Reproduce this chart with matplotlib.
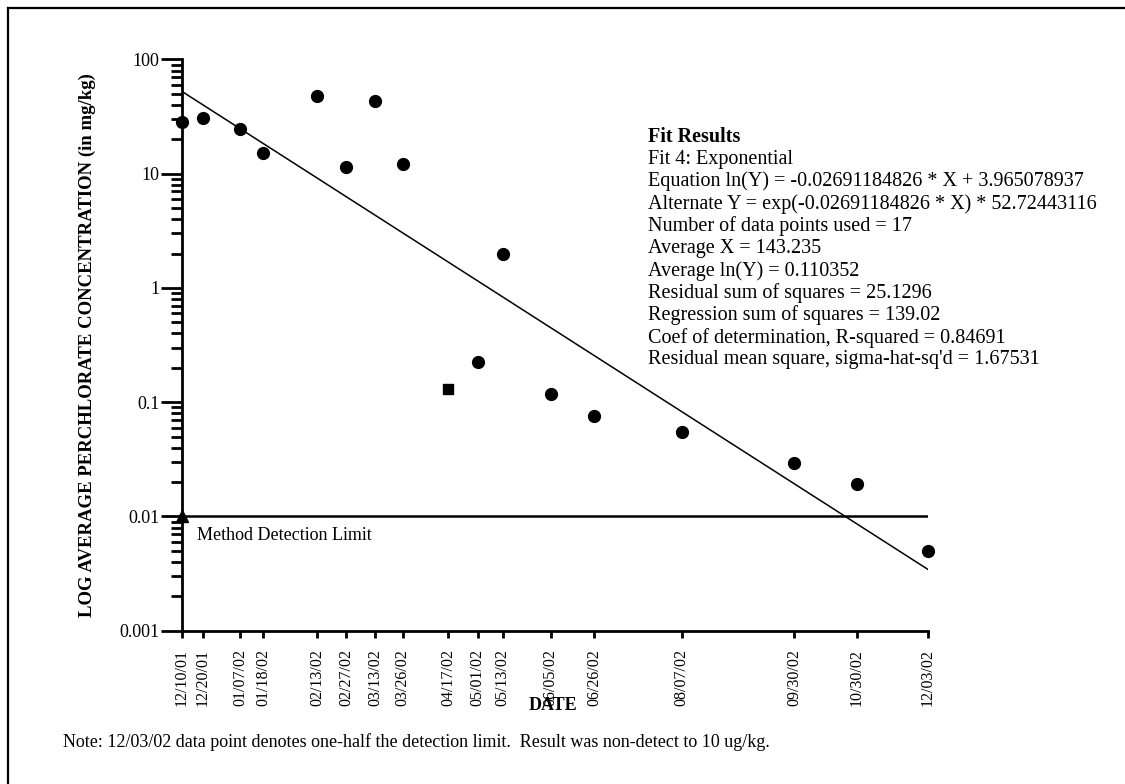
import matplotlib
matplotlib.use("Agg")
import matplotlib.pyplot as plt
import numpy as np
import pandas as pd
from matplotlib.ticker import FixedLocator, LogLocator, NullFormatter

plt.rcParams['font.family'] = ['Liberation Serif', 'DejaVu Serif']

# sample dates and average perchlorate (mg/kg)
dates = ['12/10/01', '12/20/01', '01/07/02', '01/18/02', '02/13/02', '02/27/02',
         '03/13/02', '03/26/02', '04/17/02', '05/01/02', '05/13/02', '06/05/02',
         '06/26/02', '08/07/02', '09/30/02', '10/30/02', '12/03/02']
conc = [28.2, 30.8, 24.4, 15.1, 47.7, 11.4, 43.1, 12.2, 0.131, 0.227, 2.0,
        0.117, 0.076, 0.055, 0.0296, 0.0192, 0.005]
square_date = '04/17/02'

# fit coefficients from the Fit Results box
slope = -0.02691184826
intercept = 3.965078937
detection_limit = 0.01

fit_lines = [
    "Fit 4: Exponential",
    "Equation ln(Y) = -0.02691184826 * X + 3.965078937",
    "Alternate Y = exp(-0.02691184826 * X) * 52.72443116",
    "Number of data points used = 17",
    "Average X = 143.235",
    "Average ln(Y) = 0.110352",
    "Residual sum of squares = 25.1296",
    "Regression sum of squares = 139.02",
    "Coef of determination, R-squared = 0.84691",
    "Residual mean square, sigma-hat-sq'd = 1.67531",
]

W, H = 1125, 784


def fx(px):
    return px / W


def fy(py):
    return 1 - py / H


def main():
    dt = pd.to_datetime(dates, format='%m/%d/%y')
    days = np.array((dt - dt[0]).days, dtype=float)
    conc_arr = np.array(conc)
    is_sq = np.array([d == square_date for d in dates])

    fig = plt.figure(figsize=(W / 100, H / 100), dpi=100)
    ax = fig.add_axes([fx(181.7), fy(630.7), fx(927.7) - fx(181.7), fy(59.5) - fy(630.7)])

    # frame around the page (only top and left visible)
    fig.add_artist(plt.Line2D([fx(8), 1], [fy(8), fy(8)], color='black', lw=1.6))
    fig.add_artist(plt.Line2D([fx(8), fx(8)], [fy(8), 0], color='black', lw=1.6))

    ax.set_yscale('log')
    ax.set_ylim(0.001, 100)
    ax.set_xlim(days[0], days[-1])

    # fit curve
    xs = np.linspace(days[0], days[-1], 400)
    ax.plot(xs, np.exp(slope * xs + intercept), color='black', lw=1.1, zorder=2)

    # detection limit
    ax.plot([days[0], days[-1]], [detection_limit, detection_limit], color='black', lw=1.8, zorder=2)
    ax.plot([days[0]], [detection_limit], marker='^', color='black', ms=8, clip_on=False, zorder=4)

    ax.plot(days[~is_sq], conc_arr[~is_sq], 'o', color='black', ms=8.5, clip_on=False, zorder=3)
    ax.plot(days[is_sq], conc_arr[is_sq], 's', color='black', ms=7, clip_on=False, zorder=3)

    for s in ['top', 'right']:
        ax.spines[s].set_visible(False)
    for s in ['left', 'bottom']:
        ax.spines[s].set_linewidth(2)

    ax.yaxis.set_major_locator(FixedLocator([0.001, 0.01, 0.1, 1, 10, 100]))
    ax.set_yticklabels(['0.001', '0.01', '0.1', '1', '10', '100'])
    ax.yaxis.set_minor_locator(LogLocator(base=10, subs=np.arange(2, 10)))
    ax.yaxis.set_minor_formatter(NullFormatter())
    ax.tick_params(axis='y', which='major', direction='out', length=15, width=2,
                   labelsize=13, pad=1)
    ax.tick_params(axis='y', which='minor', direction='out', length=8, width=2)

    ax.set_xticks(days)
    ax.set_xticklabels(dates, rotation=90, va='top')
    ax.tick_params(axis='x', which='major', direction='out', length=5, width=2,
                   labelsize=11.5, pad=8)

    fig.text(fx(87), fy(345), 'LOG AVERAGE PERCHLORATE CONCENTRATION (in mg/kg)',
             rotation=90, ha='center', va='center', fontsize=13.5, fontweight='bold')
    fig.text(fx(553), fy(706), 'DATE', ha='center', va='center', fontsize=13, fontweight='bold')

    fig.text(fx(197), fy(536), 'Method Detection Limit', ha='left', va='center', fontsize=13)

    fig.text(fx(648), fy(137), 'Fit Results', ha='left', va='center', fontsize=14.5, fontweight='bold')
    for i, line in enumerate(fit_lines):
        fig.text(fx(648), fy(137 + 22.3 * (i + 1)), line, ha='left', va='center', fontsize=14.5)

    fig.text(fx(63), fy(742),
             'Note: 12/03/02 data point denotes one-half the detection limit.  '
             'Result was non-detect to 10 ug/kg.',
             ha='left', va='center', fontsize=13)

    fig.savefig('out.png', dpi=100)


if __name__ == "__main__":
    main()
